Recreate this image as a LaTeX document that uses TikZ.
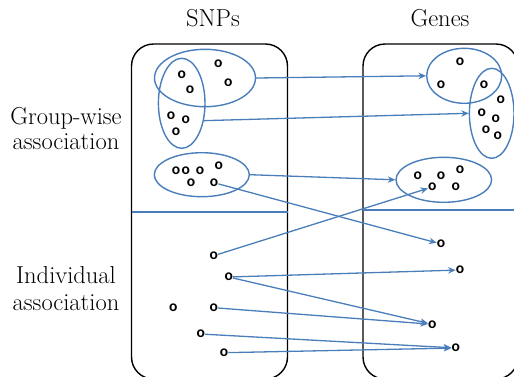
\documentclass[tikz,border=0pt]{standalone}
\usepackage{fontspec}
\newfontfamily\dotfont{Carlito}
\usetikzlibrary{shapes.geometric,arrows.meta}
\definecolor{linkblue}{RGB}{74,126,187}
\begin{document}
\begin{tikzpicture}[x=1pt,y=-1pt,
  heading/.style={font=\fontsize{24.5}{26}\selectfont, inner sep=0, anchor=base},
  marker/.style={font=\dotfont\bfseries\fontsize{15.5}{15.5}\selectfont, inner sep=0pt},
  grp/.style={ellipse, draw=linkblue, line width=1.4pt, inner sep=0},
  link/.style={draw=linkblue, line width=1.3pt, -{Stealth[length=7.5pt,width=6.5pt]}},
  panel/.style={draw=black, line width=1.4pt, rounded corners=22pt},
  divider/.style={draw=linkblue, line width=1.1pt}]
\useasboundingbox (0,0) rectangle (514,376);
\clip (0,0) rectangle (514,376);

% column headings and row labels
\node[heading] (snps) at (213,26) {SNPs};
\node[heading] (genes) at (440,26) {Genes};
\node[heading] (gw1) at (66,124.3) {Group-wise};
\node[heading] (gw2) at (66,149.3) {association};
\node[heading] (ind1) at (66,283.3) {Individual};
\node[heading] (ind2) at (66,310) {association};

% the two panels
\draw[panel] (131.5,379) rectangle (287.5,44);
\draw[panel] (363,379) rectangle (518,44);
\coordinate (ls1) at (131.5,212);
\coordinate (ls2) at (287.5,212);
\coordinate (rs1) at (363,210);
\coordinate (rs2) at (514,210);
\draw[divider] (ls1) -- (ls2);
\draw[divider] (rs1) -- (rs2);

% SNP groups
\node[grp, minimum width=101pt, minimum height=57.4pt] (A) at (205,78) {};
\node[grp, minimum width=46.6pt, minimum height=90pt] (B) at (181.7,103.3) {};
\node[grp, minimum width=95pt, minimum height=44pt] (C) at (201.8,174.7) {};

% gene groups
\node[grp, minimum width=75pt, minimum height=55pt] (D) at (464.2,75.8) {};
\node[grp, minimum width=44.6pt, minimum height=90pt] (E) at (491.7,113.3) {};
\node[grp, minimum width=95.6pt, minimum height=45pt] (F) at (443.8,179.8) {};

% SNPs inside groups
\node[marker] (a1) at (181.7,75) {o};
\node[marker] (a2) at (190,89.3) {o};
\node[marker] (a3) at (218.3,63.3) {o};
\node[marker] (a4) at (228.3,82.3) {o};
\node[marker] (b1) at (171,115.7) {o};
\node[marker] (b2) at (185.7,120) {o};
\node[marker] (b3) at (176,131.7) {o};
\node[marker] (c1) at (176,170.7) {o};
\node[marker] (c2) at (185.7,170.7) {o};
\node[marker] (c3) at (200,170.7) {o};
\node[marker] (c4) at (218.7,165.7) {o};
\node[marker] (c5) at (191,182.7) {o};
\node[marker] (c6) at (214,182.7) {o};

% genes inside groups
\node[marker] (d1) at (460,61.7) {o};
\node[marker] (d2) at (441,85) {o};
\node[marker] (e1) at (484,84.3) {o};
\node[marker] (e2) at (500.7,99.3) {o};
\node[marker] (e3) at (481.7,112.7) {o};
\node[marker] (e4) at (495.7,118.7) {o};
\node[marker] (e5) at (486,130) {o};
\node[marker] (e6) at (497.7,136) {o};
\node[marker] (f1) at (417.7,175.7) {o};
\node[marker] (f2) at (441,175.3) {o};
\node[marker] (f3) at (460,170) {o};
\node[marker] (f4) at (432.3,187) {o};
\node[marker] (f5) at (455.7,187) {o};

% individual SNPs
\node[marker] (s1) at (213.7,255.7) {o};
\node[marker] (s2) at (228.7,277) {o};
\node[marker] (s3) at (173.3,307.7) {o};
\node[marker] (s4) at (213.7,307.7) {o};
\node[marker] (s5) at (200.7,334) {o};
\node[marker] (s6) at (224,352.7) {o};

% individual genes
\node[marker] (g1) at (441,244) {o};
\node[marker] (g2) at (460,270) {o};
\node[marker] (g3) at (432.3,324.3) {o};
\node[marker] (g4) at (455.7,348) {o};

% group-wise associations
\draw[link] (A.east) -- (D.west);
\draw[link] (B.-38) -- (E.west);
\draw[link] (C.east) -- (F.west);

% individual associations
\draw[link] (c6) -- (g1);
\draw[link] (s1) -- (f4);
\draw[link] (s2) -- (g2);
\draw[link] (s2) -- (g3);
\draw[link] (s4) -- (g3);
\draw[link] (s5) -- (g4);
\draw[link] (s6) -- (g4);
\end{tikzpicture}
\end{document}
